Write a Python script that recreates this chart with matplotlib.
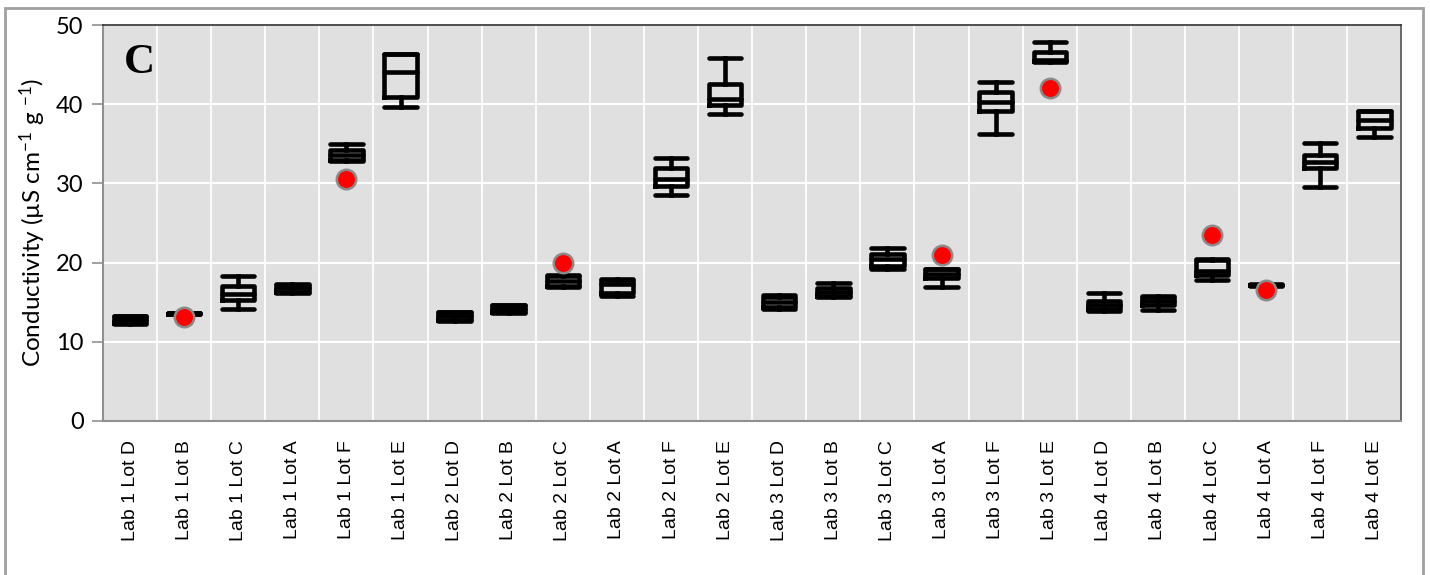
import numpy as np
import matplotlib
matplotlib.use("Agg")
import matplotlib.pyplot as plt
from matplotlib.patches import Rectangle

plt.rcParams['font.family'] = ['Lato', 'DejaVu Sans']
plt.rcParams['mathtext.fontset'] = 'custom'
plt.rcParams['mathtext.rm'] = 'Lato'
plt.rcParams['mathtext.it'] = 'Lato'

# sample labels (lab / lot)
labels = ["Lab 1 Lot D", "Lab 1 Lot B", "Lab 1 Lot C", "Lab 1 Lot A", "Lab 1 Lot F", "Lab 1 Lot E",
          "Lab 2 Lot D", "Lab 2 Lot B", "Lab 2 Lot C", "Lab 2 Lot A", "Lab 2 Lot F", "Lab 2 Lot E",
          "Lab 3 Lot D", "Lab 3 Lot B", "Lab 3 Lot C", "Lab 3 Lot A", "Lab 3 Lot F", "Lab 3 Lot E",
          "Lab 4 Lot D", "Lab 4 Lot B", "Lab 4 Lot C", "Lab 4 Lot A", "Lab 4 Lot F", "Lab 4 Lot E"]

# five-number summaries of conductivity
mins = [12.2, 13.5, 14.1, 16.2, 32.8, 39.6,
        12.6, 13.6, 16.9, 15.8, 28.5, 38.8,
        14.1, 15.6, 19.2, 16.9, 36.2, 45.3,
        13.9, 14.0, 17.8, 17.1, 29.5, 35.8]
q1s = [12.4, 13.55, 15.3, 16.3, 32.9, 40.9,
       12.75, 13.7, 17.0, 16.2, 29.7, 39.9,
       14.4, 15.8, 19.6, 18.0, 39.1, 45.4,
       14.1, 14.6, 18.4, 17.15, 31.9, 37.0]
medians = [12.8, 13.6, 16.0, 16.8, 33.6, 44.1,
           13.2, 14.1, 17.7, 17.3, 30.6, 40.7,
           15.0, 16.3, 20.5, 18.6, 40.3, 45.6,
           14.6, 15.2, 18.9, 17.2, 32.7, 38.0]
q3s = [13.2, 13.6, 17.0, 17.2, 34.2, 46.3,
       13.7, 14.6, 18.35, 17.8, 31.9, 42.6,
       15.6, 16.8, 21.1, 19.15, 41.6, 46.6,
       15.2, 15.7, 20.3, 17.2, 33.6, 39.1]
maxs = [13.3, 13.65, 18.3, 17.3, 35.0, 46.3,
        13.8, 14.7, 18.4, 17.9, 33.2, 45.8,
        15.9, 17.4, 21.9, 19.2, 42.8, 47.8,
        16.1, 15.8, 20.4, 17.25, 35.1, 39.2]

# reference values (red points), NaN where none
nan = np.nan
ref_values = [nan, 13.1, nan, nan, 30.5, nan,
              nan, nan, 20.0, nan, nan, nan,
              nan, nan, nan, 21.0, nan, 42.1,
              nan, nan, 23.5, 16.5, nan, nan]

yticks = [0, 10, 20, 30, 40, 50]

fig = plt.figure(figsize=(14.3, 5.75), dpi=100)
ax = fig.add_axes([0.072, 0.268, 0.908, 0.6885])
ax.set_facecolor('#e0e0e0')

# outer frame
fig.patches.append(Rectangle((5/1430, -0.1), 1418/1430, 1.1 - 8/575, transform=fig.transFigure,
                             fill=False, edgecolor='#a0a0a0', linewidth=2, zorder=0))

stats = []
for i in range(len(labels)):
    stats.append(dict(med=medians[i], q1=q1s[i], q3=q3s[i],
                      whislo=mins[i], whishi=maxs[i], fliers=[], label=labels[i]))

pos = np.arange(len(labels))
lw = 3.3
ax.bxp(stats, positions=pos, widths=0.6, capwidths=0.6, showfliers=False,
       boxprops=dict(color='black', linewidth=lw, solid_joinstyle='round'),
       medianprops=dict(color='black', linewidth=lw, solid_capstyle='round'),
       whiskerprops=dict(color='black', linewidth=lw),
       capprops=dict(color='black', linewidth=lw, solid_capstyle='round'),
       zorder=3)

ax.plot(pos, ref_values, linestyle='none', marker='o', markersize=14,
        markerfacecolor='#ff0000', markeredgecolor='#8a8a8a', markeredgewidth=1.8, zorder=4)

ax.set_xlim(-0.5, len(labels) - 0.5)
ax.set_ylim(0, 50)
ax.set_yticks(yticks)
ax.set_xticks(pos)
ax.set_xticklabels(labels, rotation=90, fontsize=14, family=['Liberation Sans', 'DejaVu Sans'])
ax.set_xticks(np.arange(-0.5, len(labels), 1.0), minor=True)

ax.grid(True, which='minor', axis='x', color='white', linewidth=1.3, zorder=1)
ax.grid(True, which='major', axis='y', color='white', linewidth=1.5, zorder=1)
ax.set_axisbelow(True)

ax.tick_params(axis='x', which='both', length=0, pad=14)
ax.tick_params(axis='y', length=8, width=1.2, color='#909090', labelsize=17, pad=6)

for side in ['left', 'bottom']:
    ax.spines[side].set_color('#909090')
    ax.spines[side].set_linewidth(1.5)
ax.spines['top'].set_color('#303030')
ax.spines['top'].set_linewidth(1.2)
ax.spines['right'].set_color('#505050')
ax.spines['right'].set_linewidth(1.2)

ax.set_ylabel(r"Conductivity (µS cm$^{-1}$ g $^{-1}$)", fontsize=17.5, labelpad=6)

ax.text(0.016, 0.905, "C", transform=ax.transAxes, fontsize=31, fontweight='bold',
        family=['Liberation Serif', 'DejaVu Serif'], va='center', ha='left')

fig.savefig("out.png", dpi=100)
